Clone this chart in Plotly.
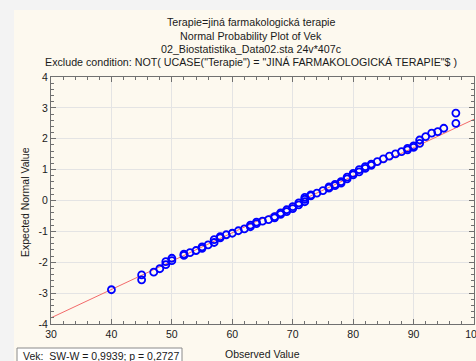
import plotly.graph_objects as go

# ---- data ----
observed = [40, 45, 45, 47, 48, 49, 49, 50, 50, 52, 52, 53, 54, 55, 55, 56, 57, 57,
            58, 58, 59, 60, 61, 62, 63, 63, 64, 64, 65, 66, 67, 67, 68, 68, 69, 69,
            70, 70, 71, 71, 72, 72, 72, 73, 73, 74, 75, 76, 76, 77, 77, 78, 78,
            79, 79, 80, 80, 81, 81, 82, 82, 83, 83, 84, 85, 86, 87, 88, 89, 89,
            90, 90, 91, 91, 92, 93, 94, 95, 97, 97]
expected = [-2.89, -2.57, -2.41, -2.32, -2.21, -2.08, -1.98, -1.95, -1.87, -1.78, -1.74,
            -1.69, -1.62, -1.55, -1.50, -1.44, -1.36, -1.27,
            -1.21, -1.17, -1.11, -1.06, -0.98, -0.92, -0.85, -0.80, -0.75, -0.70, -0.67,
            -0.62, -0.56, -0.52, -0.45, -0.40, -0.36, -0.30,
            -0.26, -0.20, -0.14, -0.08, -0.04, 0.04, 0.10, 0.15, 0.18, 0.24, 0.32, 0.40,
            0.44, 0.48, 0.52, 0.56, 0.61,
            0.70, 0.76, 0.83, 0.88, 0.93, 1.00, 1.04, 1.10, 1.14, 1.18, 1.26, 1.35, 1.44,
            1.51, 1.58, 1.64, 1.69,
            1.72, 1.77, 1.85, 1.96, 2.07, 2.18, 2.23, 2.34, 2.50, 2.83]
fit_x = [30, 100]
fit_y = [-3.80, 2.63]

title_lines = [
    "Terapie=jiná farmakologická terapie",
    "Normal Probability Plot of Vek",
    "02_Biostatistika_Data02.sta 24v*407c",
    'Exclude condition: NOT( UCASE("Terapie") = "JINÁ FARMAKOLOGICKÁ TERAPIE"$ )',
]
stat_text = "Vek:  SW-W = 0,9939; p = 0,2727"
x_title = "Observed Value"
y_title = "Expected Normal Value"
x_ticks = [30, 40, 50, 60, 70, 80, 90, 100]
y_ticks = [-4, -3, -2, -1, 0, 1, 2, 3, 4]

FONT = "Liberation Sans, Arial, sans-serif"
W, H = 476, 361
L, R, T, B = 51, 2, 77, 37
PW, PH = W - L - R, H - T - B

def px2x(px):
    return (px - L) / PW

def py2y(py):
    return 1 - (py - T) / PH

fig = go.Figure()
fig.add_trace(go.Scatter(x=fit_x, y=fit_y, mode="lines",
                         line=dict(color="#F26A6A", width=1), hoverinfo="skip"))
fig.add_trace(go.Scatter(x=observed, y=expected, mode="markers",
                         marker=dict(symbol="circle-open", size=7, color="#0000FF",
                                     line=dict(width=1.8, color="#0000FF"))))

shapes = [
    # cream panel
    dict(type="rect", xref="paper", yref="paper", x0=px2x(14), x1=px2x(490),
         y0=py2y(370), y1=py2y(10), fillcolor="#FDF9EF", line=dict(width=0), layer="below"),
    # stat box
    dict(type="rect", xref="paper", yref="paper", x0=px2x(17), x1=px2x(182),
         y0=py2y(366), y1=py2y(348), fillcolor="#FFFFFF",
         line=dict(color="#8A8A8A", width=1), layer="above"),
]

annotations = []
for py, txt in zip([22.3, 36, 49.3, 62.3], title_lines):
    annotations.append(dict(text=txt, x=px2x(251), y=py2y(py), xref="paper", yref="paper",
                            xanchor="center", yanchor="middle", showarrow=False,
                            font=dict(family=FONT, size=10.7, color="#1A1A1A")))
annotations.append(dict(text=y_title, x=px2x(25), y=py2y(202), xref="paper", yref="paper",
                        textangle=-90, xanchor="center", yanchor="middle", showarrow=False,
                        font=dict(family=FONT, size=10.5, color="#1A1A1A")))
annotations.append(dict(text=x_title, x=px2x(262), y=py2y(354), xref="paper", yref="paper",
                        xanchor="center", yanchor="middle", showarrow=False,
                        font=dict(family=FONT, size=10.5, color="#1A1A1A")))
annotations.append(dict(text=stat_text, x=px2x(21), y=py2y(355.5), xref="paper", yref="paper",
                        xanchor="left", yanchor="middle", showarrow=False,
                        font=dict(family=FONT, size=10.5, color="#1A1A1A")))

axis_common = dict(showline=True, linecolor="#707070", linewidth=1, mirror="allticks",
                   ticks="inside", ticklen=5, tickcolor="#707070", tickwidth=1,
                   showgrid=True, gridcolor="#E4E4E4", gridwidth=1, zeroline=False,
                   automargin=False, ticklabeloverflow="allow",
                   tickfont=dict(family=FONT, size=10.5, color="#1A1A1A"))

fig.update_layout(
    width=W, height=H, margin=dict(l=L, r=R, t=T, b=B),
    paper_bgcolor="#F3F3F3", plot_bgcolor="#FFFFFF",
    showlegend=False, shapes=shapes, annotations=annotations,
    xaxis=dict(range=[30, 100], tickvals=x_ticks, ticktext=[str(v) for v in x_ticks],
               minor=dict(dtick=2, ticks="inside", ticklen=3, tickcolor="#707070", showgrid=False),
               **axis_common),
    yaxis=dict(range=[-4, 4], tickvals=y_ticks, ticktext=[str(v) for v in y_ticks],
               minor=dict(dtick=0.2, ticks="inside", ticklen=3, tickcolor="#707070", showgrid=False),
               **axis_common),
)
fig.write_html("out.html", config={"displayModeBar": False},
               post_script="document.body.style.margin='0';document.body.style.overflow='hidden';")
